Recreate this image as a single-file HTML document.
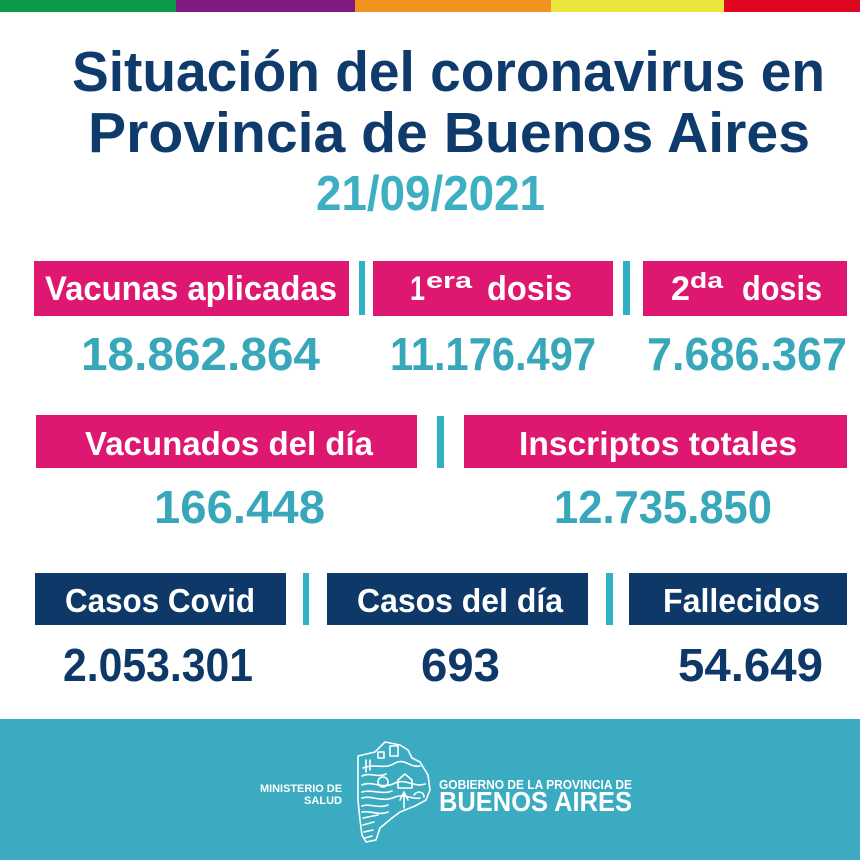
<!DOCTYPE html>
<html><head><meta charset="utf-8"><style>
html,body{margin:0;padding:0;background:#fff;}
svg{display:block;}
text{font-family:"Liberation Sans",sans-serif;font-weight:bold;}
</style></head><body>
<svg width="860" height="860" viewBox="0 0 860 860" xmlns="http://www.w3.org/2000/svg">
<rect width="860" height="860" fill="#ffffff"/>
<!-- top color bar -->
<rect x="0" y="0" width="177" height="12" fill="#0C9A48"/>
<rect x="176" y="0" width="179" height="12" fill="#7E1A82"/>
<rect x="355" y="0" width="196" height="12" fill="#F0931F"/>
<rect x="551" y="0" width="173" height="12" fill="#ECE53E"/>
<rect x="724" y="0" width="136" height="12" fill="#E1061F"/>

<!-- title -->
<text x="72" y="91" font-size="57" fill="#0F3B6C" textLength="753" lengthAdjust="spacingAndGlyphs">Situación del coronavirus en</text>
<text x="88" y="152" font-size="57" fill="#0F3B6C" textLength="722" lengthAdjust="spacingAndGlyphs">Provincia de Buenos Aires</text>
<text x="316" y="210" font-size="49" fill="#3CAFC3" textLength="229" lengthAdjust="spacingAndGlyphs">21/09/2021</text>

<!-- row 1 -->
<rect x="34" y="261" width="315" height="55" fill="#DE1870"/>
<rect x="373" y="261" width="240" height="55" fill="#DE1870"/>
<rect x="643" y="261" width="204" height="55" fill="#DE1870"/>
<rect x="359" y="261" width="6" height="54" fill="#2FB0C3"/>
<rect x="623" y="261" width="7" height="54" fill="#2FB0C3"/>
<text x="45" y="300" font-size="34" fill="#fff" textLength="292" lengthAdjust="spacingAndGlyphs">Vacunas aplicadas</text>
<text x="410" y="300" font-size="34" fill="#fff" textLength="15" lengthAdjust="spacingAndGlyphs">1</text>
<text x="426" y="288" font-size="22" fill="#fff" textLength="46" lengthAdjust="spacingAndGlyphs">era</text>
<text x="487" y="300" font-size="34" fill="#fff" textLength="85" lengthAdjust="spacingAndGlyphs">dosis</text>
<text x="671" y="300" font-size="34" fill="#fff" textLength="19" lengthAdjust="spacingAndGlyphs">2</text>
<text x="690" y="288" font-size="22" fill="#fff" textLength="33" lengthAdjust="spacingAndGlyphs">da</text>
<text x="742" y="300" font-size="34" fill="#fff" textLength="80" lengthAdjust="spacingAndGlyphs">dosis</text>
<text x="81" y="370" font-size="46" fill="#38A7BA" textLength="239" lengthAdjust="spacingAndGlyphs">18.862.864</text>
<text x="390" y="370" font-size="46" fill="#38A7BA" textLength="206" lengthAdjust="spacingAndGlyphs">11.176.497</text>
<text x="647" y="370" font-size="46" fill="#38A7BA" textLength="200" lengthAdjust="spacingAndGlyphs">7.686.367</text>

<!-- row 2 -->
<rect x="36" y="415" width="381" height="53" fill="#DE1870"/>
<rect x="464" y="415" width="383" height="53" fill="#DE1870"/>
<rect x="437" y="416" width="7" height="52" fill="#2FB0C3"/>
<text x="85" y="455" font-size="33" fill="#fff" textLength="288" lengthAdjust="spacingAndGlyphs">Vacunados del día</text>
<text x="519" y="455" font-size="33" fill="#fff" textLength="278" lengthAdjust="spacingAndGlyphs">Inscriptos totales</text>
<text x="154" y="523" font-size="46" fill="#38A7BA" textLength="171" lengthAdjust="spacingAndGlyphs">166.448</text>
<text x="554" y="523" font-size="46" fill="#38A7BA" textLength="218" lengthAdjust="spacingAndGlyphs">12.735.850</text>

<!-- row 3 -->
<rect x="35" y="573" width="251" height="52" fill="#0D3868"/>
<rect x="327" y="573" width="261" height="52" fill="#0D3868"/>
<rect x="629" y="573" width="218" height="52" fill="#0D3868"/>
<rect x="303" y="573" width="6" height="52" fill="#2FB0C3"/>
<rect x="606" y="573" width="7" height="52" fill="#2FB0C3"/>
<text x="65" y="612" font-size="33" fill="#fff" textLength="190" lengthAdjust="spacingAndGlyphs">Casos Covid</text>
<text x="357" y="612" font-size="33" fill="#fff" textLength="206" lengthAdjust="spacingAndGlyphs">Casos del día</text>
<text x="663" y="612" font-size="33" fill="#fff" textLength="157" lengthAdjust="spacingAndGlyphs">Fallecidos</text>
<text x="63" y="681" font-size="46" fill="#0D3868" textLength="190" lengthAdjust="spacingAndGlyphs">2.053.301</text>
<text x="421" y="681" font-size="46" fill="#0D3868" textLength="79" lengthAdjust="spacingAndGlyphs">693</text>
<text x="678" y="681" font-size="46" fill="#0D3868" textLength="145" lengthAdjust="spacingAndGlyphs">54.649</text>

<!-- footer -->
<rect x="0" y="719" width="860" height="141" fill="#3AABC1"/>
<text x="342" y="792" font-size="11" fill="#fff" text-anchor="end" textLength="82" lengthAdjust="spacingAndGlyphs">MINISTERIO DE</text>
<text x="342" y="804" font-size="11" fill="#fff" text-anchor="end" textLength="38" lengthAdjust="spacingAndGlyphs">SALUD</text>
<g fill="none" stroke="#fff" stroke-width="1.6" stroke-linejoin="round" stroke-linecap="round">
<path d="M358,756 L375,752 L385,742 L400,745 L408,750 L412,758 L420,762 L428,775 L430,790 L426,800 L415,806 L400,812 L392,818 L380,828 L376,840 L366,842 L362,835 L360,820 L358,800 Z"/>
<path d="M363,768 C375,763 385,770 395,763 C405,758 410,768 420,766"/>
<path d="M362,776 C370,772 378,778 386,774"/>
<path d="M362,785 C372,780 382,790 395,783 C405,778 415,788 425,784"/>
<path d="M362,792 C372,789 382,795 392,791"/>
<path d="M362,798 C372,795 382,803 395,797 C405,793 412,800 420,798"/>
<path d="M362,806 C370,803 378,809 388,805"/>
<path d="M362,812 C370,810 378,816 388,812"/>
<path d="M363,818 L378,815 M363,825 L374,822 M364,832 L373,830 M365,838 L372,836"/>
<rect x="390" y="746" width="8" height="10"/>
<rect x="378" y="752" width="6" height="6"/>
<circle cx="383" cy="782" r="5"/>
<path d="M398,780 L405,774 L412,780 L412,788 L398,788 Z"/>
<path d="M400,800 L404,792 L408,800 M404,792 L404,808"/>
<path d="M414,795 C418,790 424,792 424,797"/>
<path d="M366,760 L366,772 M370,760 L370,770"/>
</g>
<text x="439" y="789" font-size="13" fill="#fff" textLength="193" lengthAdjust="spacingAndGlyphs">GOBIERNO DE LA PROVINCIA DE</text>
<text x="439" y="811" font-size="28" fill="#fff" textLength="193" lengthAdjust="spacingAndGlyphs">BUENOS AIRES</text>
</svg>
</body></html>
